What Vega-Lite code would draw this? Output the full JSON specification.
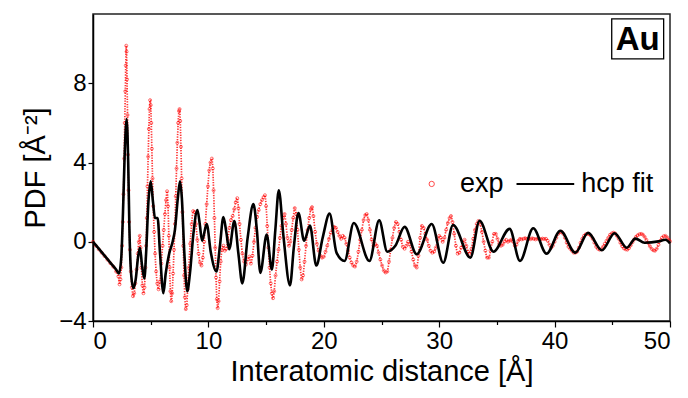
{
  "$schema": "https://vega.github.io/schema/vega-lite/v6.json",
  "width": 577,
  "height": 307,
  "autosize": {"type": "none"},
  "padding": {"left": 93, "top": 14, "right": 18, "bottom": 77},
  "background": "white",
  "config": {
    "font": "Liberation Sans",
    "view": {"stroke": "#222", "strokeWidth": 1.5},
    "axis": {"grid": false, "domainColor": "#000", "domainWidth": 1.5, "tickColor": "#000", "tickWidth": 1.2, "labelColor": "#000", "titleColor": "#000", "labelFont": "Liberation Sans", "titleFont": "Liberation Sans", "titleFontWeight": "normal"}
  },
  "datasets": {
    "exp": [
      {"r":0,"g":0},{"r":0.25,"g":-0.2},{"r":0.5,"g":-0.38},{"r":0.75,"g":-0.55},{"r":1.0,"g":-0.72},{"r":1.25,"g":-0.9},{"r":1.5,"g":-1.08},{"r":1.75,"g":-1.25},{"r":2.0,"g":-1.5},{"r":2.2,"g":-1.75},{"r":2.3,"g":-2.15},{"r":2.38,"g":-1.9},{"r":2.45,"g":-1.3},{"r":2.52,"g":-0.2},{"r":2.58,"g":1.0},{"r":2.64,"g":2.4},{"r":2.7,"g":4.2},{"r":2.75,"g":6.0},{"r":2.8,"g":7.6},{"r":2.84,"g":8.9},{"r":2.88,"g":9.9},{"r":2.91,"g":9.6},{"r":2.95,"g":8.2},{"r":2.99,"g":6.4},{"r":3.03,"g":4.4},{"r":3.08,"g":2.6},{"r":3.13,"g":1.0},{"r":3.2,"g":-0.4},{"r":3.28,"g":-1.5},{"r":3.37,"g":-2.3},{"r":3.47,"g":-2.75},{"r":3.57,"g":-2.6},{"r":3.67,"g":-2.1},{"r":3.78,"g":-1.4},{"r":3.88,"g":-0.6},{"r":3.97,"g":0.0},{"r":4.05,"g":0.3},{"r":4.12,"g":-0.3},{"r":4.2,"g":-1.3},{"r":4.28,"g":-2.2},{"r":4.37,"g":-2.6},{"r":4.46,"g":-2.3},{"r":4.54,"g":-1.3},{"r":4.6,"g":-0.2},{"r":4.66,"g":1.2},{"r":4.72,"g":2.8},{"r":4.78,"g":4.3},{"r":4.84,"g":5.7},{"r":4.9,"g":6.7},{"r":4.95,"g":7.15},{"r":5.0,"g":6.9},{"r":5.05,"g":6.0},{"r":5.1,"g":4.7},{"r":5.16,"g":3.2},{"r":5.22,"g":1.8},{"r":5.3,"g":0.5},{"r":5.38,"g":-0.6},{"r":5.47,"g":-1.5},{"r":5.57,"g":-2.1},{"r":5.68,"g":-2.4},{"r":5.8,"g":-2.0},{"r":5.92,"g":-1.1},{"r":6.03,"g":-0.2},{"r":6.13,"g":0.6},{"r":6.23,"g":1.4},{"r":6.33,"g":2.1},{"r":6.42,"g":2.55},{"r":6.5,"g":1.8},{"r":6.57,"g":0.3},{"r":6.64,"g":-1.3},{"r":6.71,"g":-2.5},{"r":6.78,"g":-3.0},{"r":6.86,"g":-2.6},{"r":6.94,"g":-1.6},{"r":7.02,"g":-0.4},{"r":7.1,"g":0.9},{"r":7.17,"g":2.3},{"r":7.24,"g":3.7},{"r":7.31,"g":5.0},{"r":7.38,"g":6.0},{"r":7.45,"g":6.6},{"r":7.5,"g":6.7},{"r":7.56,"g":6.1},{"r":7.62,"g":4.8},{"r":7.68,"g":3.2},{"r":7.75,"g":1.5},{"r":7.82,"g":-0.2},{"r":7.89,"g":-1.7},{"r":7.96,"g":-2.8},{"r":8.04,"g":-3.4},{"r":8.12,"g":-3.2},{"r":8.2,"g":-2.4},{"r":8.3,"g":-1.3},{"r":8.42,"g":-0.1},{"r":8.55,"g":0.9},{"r":8.68,"g":1.55},{"r":8.8,"g":1.5},{"r":8.92,"g":0.9},{"r":9.04,"g":0.1},{"r":9.15,"g":-0.6},{"r":9.27,"g":-1.05},{"r":9.4,"g":-1.2},{"r":9.52,"g":-0.8},{"r":9.63,"g":0.0},{"r":9.74,"g":0.9},{"r":9.85,"g":1.9},{"r":9.96,"g":2.8},{"r":10.07,"g":3.6},{"r":10.18,"g":4.0},{"r":10.3,"g":4.2},{"r":10.38,"g":3.7},{"r":10.45,"g":2.6},{"r":10.52,"g":1.2},{"r":10.59,"g":-0.3},{"r":10.66,"g":-1.8},{"r":10.73,"g":-2.9},{"r":10.8,"g":-3.35},{"r":10.88,"g":-3.0},{"r":10.97,"g":-2.0},{"r":11.07,"g":-1.0},{"r":11.18,"g":-0.4},{"r":11.3,"g":-0.2},{"r":11.42,"g":-0.45},{"r":11.55,"g":-0.35},{"r":11.68,"g":0.1},{"r":11.82,"g":0.7},{"r":11.96,"g":1.1},{"r":12.1,"g":1.3},{"r":12.24,"g":1.65},{"r":12.37,"g":2.0},{"r":12.5,"g":2.2},{"r":12.6,"g":1.7},{"r":12.7,"g":0.9},{"r":12.82,"g":0.1},{"r":12.95,"g":-0.6},{"r":13.1,"g":-1.0},{"r":13.25,"g":-1.15},{"r":13.4,"g":-0.9},{"r":13.55,"g":-0.75},{"r":13.68,"g":-1.1},{"r":13.82,"g":-0.7},{"r":13.95,"g":0.0},{"r":14.08,"g":0.7},{"r":14.22,"g":1.25},{"r":14.36,"g":1.6},{"r":14.5,"g":1.9},{"r":14.64,"g":2.1},{"r":14.78,"g":2.25},{"r":14.9,"g":2.35},{"r":15.0,"g":1.8},{"r":15.1,"g":0.8},{"r":15.2,"g":-0.3},{"r":15.3,"g":-1.3},{"r":15.4,"g":-2.1},{"r":15.5,"g":-2.6},{"r":15.6,"g":-2.85},{"r":15.7,"g":-2.5},{"r":15.82,"g":-1.7},{"r":15.95,"g":-1.0},{"r":16.08,"g":-0.4},{"r":16.2,"g":0.2},{"r":16.33,"g":0.8},{"r":16.46,"g":1.2},{"r":16.6,"g":1.4},{"r":16.72,"g":0.9},{"r":16.85,"g":0.2},{"r":16.98,"g":-0.2},{"r":17.1,"g":0.0},{"r":17.22,"g":0.6},{"r":17.35,"g":1.2},{"r":17.48,"g":1.7},{"r":17.6,"g":1.4},{"r":17.72,"g":0.6},{"r":17.84,"g":-0.4},{"r":17.96,"g":-1.3},{"r":18.08,"g":-1.9},{"r":18.2,"g":-1.7},{"r":18.33,"g":-1.0},{"r":18.46,"g":-0.2},{"r":18.6,"g":0.6},{"r":18.74,"g":1.2},{"r":18.88,"g":1.65},{"r":18.98,"g":1.75},{"r":19.1,"g":1.3},{"r":19.25,"g":0.5},{"r":19.4,"g":-0.1},{"r":19.55,"g":-0.45},{"r":19.7,"g":-0.7},{"r":19.85,"g":-0.8},{"r":20.0,"g":-0.75},{"r":20.15,"g":-0.5},{"r":20.3,"g":-0.2},{"r":20.45,"g":0.15},{"r":20.6,"g":0.45},{"r":20.75,"g":0.6},{"r":20.9,"g":0.75},{"r":21.05,"g":0.7},{"r":21.2,"g":0.5},{"r":21.35,"g":0.3},{"r":21.5,"g":0.15},{"r":21.65,"g":0.3},{"r":21.8,"g":0.2},{"r":21.95,"g":-0.1},{"r":22.1,"g":-0.45},{"r":22.25,"g":-0.8},{"r":22.4,"g":-1.05},{"r":22.55,"g":-1.2},{"r":22.7,"g":-1.25},{"r":22.85,"g":-1.0},{"r":23.0,"g":-0.5},{"r":23.15,"g":0.1},{"r":23.3,"g":0.6},{"r":23.45,"g":1.1},{"r":23.6,"g":1.35},{"r":23.72,"g":1.4},{"r":23.85,"g":1.1},{"r":24.0,"g":0.6},{"r":24.15,"g":0.1},{"r":24.3,"g":-0.2},{"r":24.45,"g":-0.1},{"r":24.6,"g":-0.2},{"r":24.75,"g":-0.55},{"r":24.9,"g":-0.9},{"r":25.05,"g":-1.2},{"r":25.2,"g":-1.45},{"r":25.35,"g":-1.55},{"r":25.5,"g":-1.5},{"r":25.65,"g":-1.0},{"r":25.8,"g":-0.4},{"r":25.95,"g":0.2},{"r":26.1,"g":0.7},{"r":26.25,"g":1.0},{"r":26.4,"g":0.9},{"r":26.55,"g":0.5},{"r":26.7,"g":0.1},{"r":26.85,"g":-0.25},{"r":27.0,"g":-0.35},{"r":27.15,"g":-0.2},{"r":27.3,"g":0.0},{"r":27.45,"g":-0.15},{"r":27.6,"g":-0.5},{"r":27.75,"g":-0.9},{"r":27.9,"g":-1.2},{"r":28.05,"g":-1.3},{"r":28.2,"g":-0.7},{"r":28.35,"g":0.2},{"r":28.5,"g":0.8},{"r":28.65,"g":0.7},{"r":28.8,"g":0.4},{"r":28.95,"g":0.1},{"r":29.1,"g":-0.2},{"r":29.25,"g":-0.45},{"r":29.4,"g":-0.55},{"r":29.55,"g":-0.5},{"r":29.7,"g":-0.3},{"r":29.85,"g":0.1},{"r":30.0,"g":0.3},{"r":30.15,"g":0.2},{"r":30.3,"g":0.0},{"r":30.45,"g":0.2},{"r":30.6,"g":0.6},{"r":30.75,"g":0.95},{"r":30.9,"g":1.2},{"r":31.02,"g":1.3},{"r":31.15,"g":1.0},{"r":31.3,"g":0.4},{"r":31.45,"g":-0.2},{"r":31.6,"g":-0.6},{"r":31.75,"g":-0.55},{"r":31.9,"g":-0.3},{"r":32.05,"g":-0.05},{"r":32.2,"g":0.1},{"r":32.35,"g":-0.2},{"r":32.5,"g":-0.5},{"r":32.65,"g":-0.6},{"r":32.8,"g":-0.35},{"r":32.95,"g":0.15},{"r":33.1,"g":0.6},{"r":33.25,"g":0.9},{"r":33.4,"g":1.05},{"r":33.55,"g":0.9},{"r":33.7,"g":0.5},{"r":33.85,"g":0.0},{"r":34.0,"g":-0.45},{"r":34.15,"g":-0.8},{"r":34.3,"g":-0.8},{"r":34.45,"g":-0.45},{"r":34.6,"g":0.0},{"r":34.75,"g":0.4},{"r":34.9,"g":0.4},{"r":35.05,"g":0.15},{"r":35.2,"g":-0.1},{"r":35.35,"g":-0.2},{"r":35.5,"g":-0.15},{"r":35.65,"g":0.0},{"r":35.8,"g":0.1},{"r":35.95,"g":0.0},{"r":36.1,"g":0.05},{"r":36.25,"g":0.1},{"r":36.4,"g":0.0},{"r":36.55,"g":-0.2},{"r":36.7,"g":-0.15},{"r":36.85,"g":0.05},{"r":37.0,"g":0.15},{"r":37.15,"g":0.12},{"r":37.3,"g":0.15},{"r":37.45,"g":0.18},{"r":37.6,"g":0.14},{"r":37.75,"g":0.16},{"r":37.9,"g":0.13},{"r":38.05,"g":0.17},{"r":38.2,"g":0.15},{"r":38.35,"g":0.12},{"r":38.5,"g":0.16},{"r":38.65,"g":0.15},{"r":38.8,"g":0.13},{"r":38.95,"g":0.16},{"r":39.1,"g":0.14},{"r":39.25,"g":0.15},{"r":39.4,"g":0.05},{"r":39.55,"g":-0.15},{"r":39.7,"g":-0.3},{"r":39.85,"g":-0.2},{"r":40.0,"g":0.0},{"r":40.15,"g":0.2},{"r":40.3,"g":0.4},{"r":40.45,"g":0.48},{"r":40.6,"g":0.5},{"r":40.75,"g":0.4},{"r":40.9,"g":0.2},{"r":41.05,"g":-0.05},{"r":41.2,"g":-0.25},{"r":41.35,"g":-0.35},{"r":41.5,"g":-0.45},{"r":41.65,"g":-0.55},{"r":41.8,"g":-0.55},{"r":41.95,"g":-0.5},{"r":42.1,"g":-0.3},{"r":42.25,"g":-0.05},{"r":42.4,"g":0.15},{"r":42.55,"g":0.3},{"r":42.7,"g":0.38},{"r":42.85,"g":0.4},{"r":43.0,"g":0.38},{"r":43.15,"g":0.3},{"r":43.3,"g":0.15},{"r":43.45,"g":-0.05},{"r":43.6,"g":-0.25},{"r":43.75,"g":-0.35},{"r":43.9,"g":-0.4},{"r":44.05,"g":-0.38},{"r":44.2,"g":-0.25},{"r":44.35,"g":-0.1},{"r":44.5,"g":0.05},{"r":44.65,"g":0.2},{"r":44.8,"g":0.35},{"r":44.95,"g":0.42},{"r":45.1,"g":0.46},{"r":45.25,"g":0.42},{"r":45.4,"g":0.3},{"r":45.55,"g":0.15},{"r":45.7,"g":-0.05},{"r":45.85,"g":-0.22},{"r":46.0,"g":-0.33},{"r":46.15,"g":-0.38},{"r":46.3,"g":-0.4},{"r":46.45,"g":-0.32},{"r":46.6,"g":-0.18},{"r":46.75,"g":-0.02},{"r":46.9,"g":0.12},{"r":47.05,"g":0.25},{"r":47.2,"g":0.33},{"r":47.35,"g":0.38},{"r":47.5,"g":0.4},{"r":47.65,"g":0.36},{"r":47.8,"g":0.25},{"r":47.95,"g":0.1},{"r":48.1,"g":-0.05},{"r":48.25,"g":-0.22},{"r":48.4,"g":-0.35},{"r":48.55,"g":-0.43},{"r":48.7,"g":-0.45},{"r":48.85,"g":-0.35},{"r":49.0,"g":-0.15},{"r":49.15,"g":0.05},{"r":49.3,"g":0.2},{"r":49.45,"g":0.28},{"r":49.6,"g":0.3},{"r":49.75,"g":0.22},{"r":49.9,"g":0.1},{"r":50.0,"g":0.02}
    ],
    "fit": [
      {"r":0,"g":0},{"r":0.5,"g":-0.35},{"r":1,"g":-0.7},{"r":1.5,"g":-1.05},{"r":2,"g":-1.4},{"r":2.25,"g":-1.6},{"r":2.45,"g":-0.8},{"r":2.6,"g":1.5},{"r":2.75,"g":4.5},{"r":2.92,"g":6.2},{"r":3.05,"g":4.0},{"r":3.15,"g":0.8},{"r":3.3,"g":-1.6},{"r":3.5,"g":-2.35},{"r":3.7,"g":-1.9},{"r":3.9,"g":-0.8},{"r":4.07,"g":-0.3},{"r":4.25,"g":-1.2},{"r":4.45,"g":-1.85},{"r":4.6,"g":-0.6},{"r":4.8,"g":2.0},{"r":5.0,"g":3.05},{"r":5.2,"g":2.0},{"r":5.37,"g":1.2},{"r":5.6,"g":1.2},{"r":5.8,"g":-0.5},{"r":6.1,"g":-2.6},{"r":6.3,"g":-1.6},{"r":6.6,"g":-0.6},{"r":6.9,"g":0.0},{"r":7.1,"g":0.6},{"r":7.35,"g":2.2},{"r":7.54,"g":3.05},{"r":7.7,"g":2.2},{"r":7.9,"g":-0.4},{"r":8.17,"g":-2.5},{"r":8.4,"g":-1.6},{"r":8.7,"g":0.4},{"r":9.05,"g":1.6},{"r":9.25,"g":0.9},{"r":9.45,"g":0.05},{"r":9.85,"g":0.9},{"r":10.2,"g":-0.5},{"r":10.7,"g":-1.5},{"r":11.0,"g":-0.2},{"r":11.3,"g":1.25},{"r":11.55,"g":0.5},{"r":11.8,"g":-0.38},{"r":12.25,"g":1.04},{"r":12.6,"g":-0.6},{"r":12.94,"g":-2.1},{"r":13.4,"g":0.2},{"r":13.9,"g":1.9},{"r":14.2,"g":0.6},{"r":14.5,"g":-1.57},{"r":15.05,"g":0.36},{"r":15.5,"g":-1.4},{"r":15.8,"g":0.6},{"r":16.1,"g":2.6},{"r":16.5,"g":0.3},{"r":17.07,"g":-2.2},{"r":17.4,"g":-0.3},{"r":17.8,"g":1.45},{"r":18.3,"g":0.05},{"r":18.8,"g":0.82},{"r":19.35,"g":-1.2},{"r":19.9,"g":0.2},{"r":20.5,"g":1.42},{"r":21.1,"g":-0.55},{"r":21.8,"g":-0.97},{"r":22.6,"g":0.95},{"r":23.95,"g":-0.97},{"r":24.8,"g":1.08},{"r":25.5,"g":-0.5},{"r":26.2,"g":-0.2},{"r":27.0,"g":0.75},{"r":28.05,"g":-0.63},{"r":29.35,"g":0.9},{"r":30.35,"g":-1.06},{"r":31.2,"g":0.85},{"r":32.7,"g":-0.8},{"r":33.5,"g":1.06},{"r":34.7,"g":-0.5},{"r":36.1,"g":0.65},{"r":37.0,"g":-0.97},{"r":38.15,"g":0.68},{"r":39.3,"g":-0.6},{"r":40.5,"g":0.56},{"r":41.8,"g":-0.55},{"r":42.9,"g":0.45},{"r":44.1,"g":-0.43},{"r":45.2,"g":0.43},{"r":46.25,"g":-0.3},{"r":47.0,"g":0.16},{"r":47.8,"g":-0.05},{"r":49.0,"g":0.02},{"r":49.6,"g":0.1},{"r":50,"g":-0.08}
    ]
  },
  "resolve": {"axis": {"x": "independent"}},
  "layer": [
    {
      "data": {"name": "exp"},
      "mark": {"type": "line", "interpolate": "monotone", "color": "#ff0000", "strokeWidth": 1.7, "strokeDash": [1.3, 1.3], "opacity": 0.8},
      "encoding": {
        "x": {"field": "r", "type": "quantitative", "scale": {"domain": [0, 50], "nice": false},
          "axis": {"orient": "bottom", "values": [0, 10, 20, 30, 40, 50], "tickSize": 6, "labelFontSize": 24, "labelPadding": 2, "title": "Interatomic distance [Å]", "titleFontSize": 29, "titlePadding": 4}},
        "y": {"field": "g", "type": "quantitative", "scale": {"domain": [-4, 11.5], "nice": false, "zero": false},
          "axis": {"values": [-4, 0, 4, 8], "tickSize": 5, "labelFontSize": 24, "labelPadding": 2, "title": "PDF [Å⁻²]", "titleFontSize": 29, "titlePadding": 8}}
      }
    },
    {
      "data": {"name": "exp"},
      "mark": {"type": "point", "shape": "circle", "filled": false, "color": "#ff0000", "size": 9, "strokeWidth": 0.8},
      "encoding": {
        "x": {"field": "r", "type": "quantitative", "axis": {"orient": "bottom", "values": [5, 15, 25, 35, 45], "tickSize": 3.5, "labels": false, "domain": false, "title": null}},
        "y": {"field": "g", "type": "quantitative"}
      }
    },
    {
      "data": {"name": "fit"},
      "mark": {"type": "line", "interpolate": "monotone", "color": "#000", "strokeWidth": 2.6},
      "encoding": {
        "x": {"field": "r", "type": "quantitative", "axis": null},
        "y": {"field": "g", "type": "quantitative"}
      }
    },
    {
      "data": {"values": [{}]},
      "mark": {"type": "point", "shape": "circle", "filled": false, "color": "#ff0000", "size": 28, "strokeWidth": 1},
      "encoding": {"x": {"datum": 29.35, "type": "quantitative", "axis": null}, "y": {"datum": 2.92, "type": "quantitative"}}
    },
    {
      "data": {"values": [{}]},
      "mark": {"type": "text", "text": "exp", "align": "left", "baseline": "middle", "fontSize": 27, "color": "#000"},
      "encoding": {"x": {"datum": 31.8, "type": "quantitative", "axis": null}, "y": {"datum": 2.92, "type": "quantitative"}}
    },
    {
      "data": {"values": [{"a": 36.7, "b": 41.7}]},
      "mark": {"type": "rule", "color": "#000", "strokeWidth": 2},
      "encoding": {"x": {"field": "a", "type": "quantitative", "axis": null}, "x2": {"field": "b"}, "y": {"datum": 2.92, "type": "quantitative"}}
    },
    {
      "data": {"values": [{}]},
      "mark": {"type": "text", "text": "hcp fit", "align": "left", "baseline": "middle", "fontSize": 27, "color": "#000"},
      "encoding": {"x": {"datum": 42.3, "type": "quantitative", "axis": null}, "y": {"datum": 2.92, "type": "quantitative"}}
    },
    {
      "data": {"values": [{"x1": 44.95, "x2": 49.45, "y1": 9.23, "y2": 11.25}]},
      "mark": {"type": "rect", "fill": "white", "stroke": "#000", "strokeWidth": 1.3},
      "encoding": {"x": {"field": "x1", "type": "quantitative", "axis": null}, "x2": {"field": "x2"}, "y": {"field": "y1", "type": "quantitative"}, "y2": {"field": "y2"}}
    },
    {
      "data": {"values": [{}]},
      "mark": {"type": "text", "text": "Au", "align": "center", "baseline": "middle", "fontSize": 33, "fontWeight": "bold", "color": "#000"},
      "encoding": {"x": {"datum": 47.2, "type": "quantitative", "axis": null}, "y": {"datum": 10.2, "type": "quantitative"}}
    }
  ]
}
